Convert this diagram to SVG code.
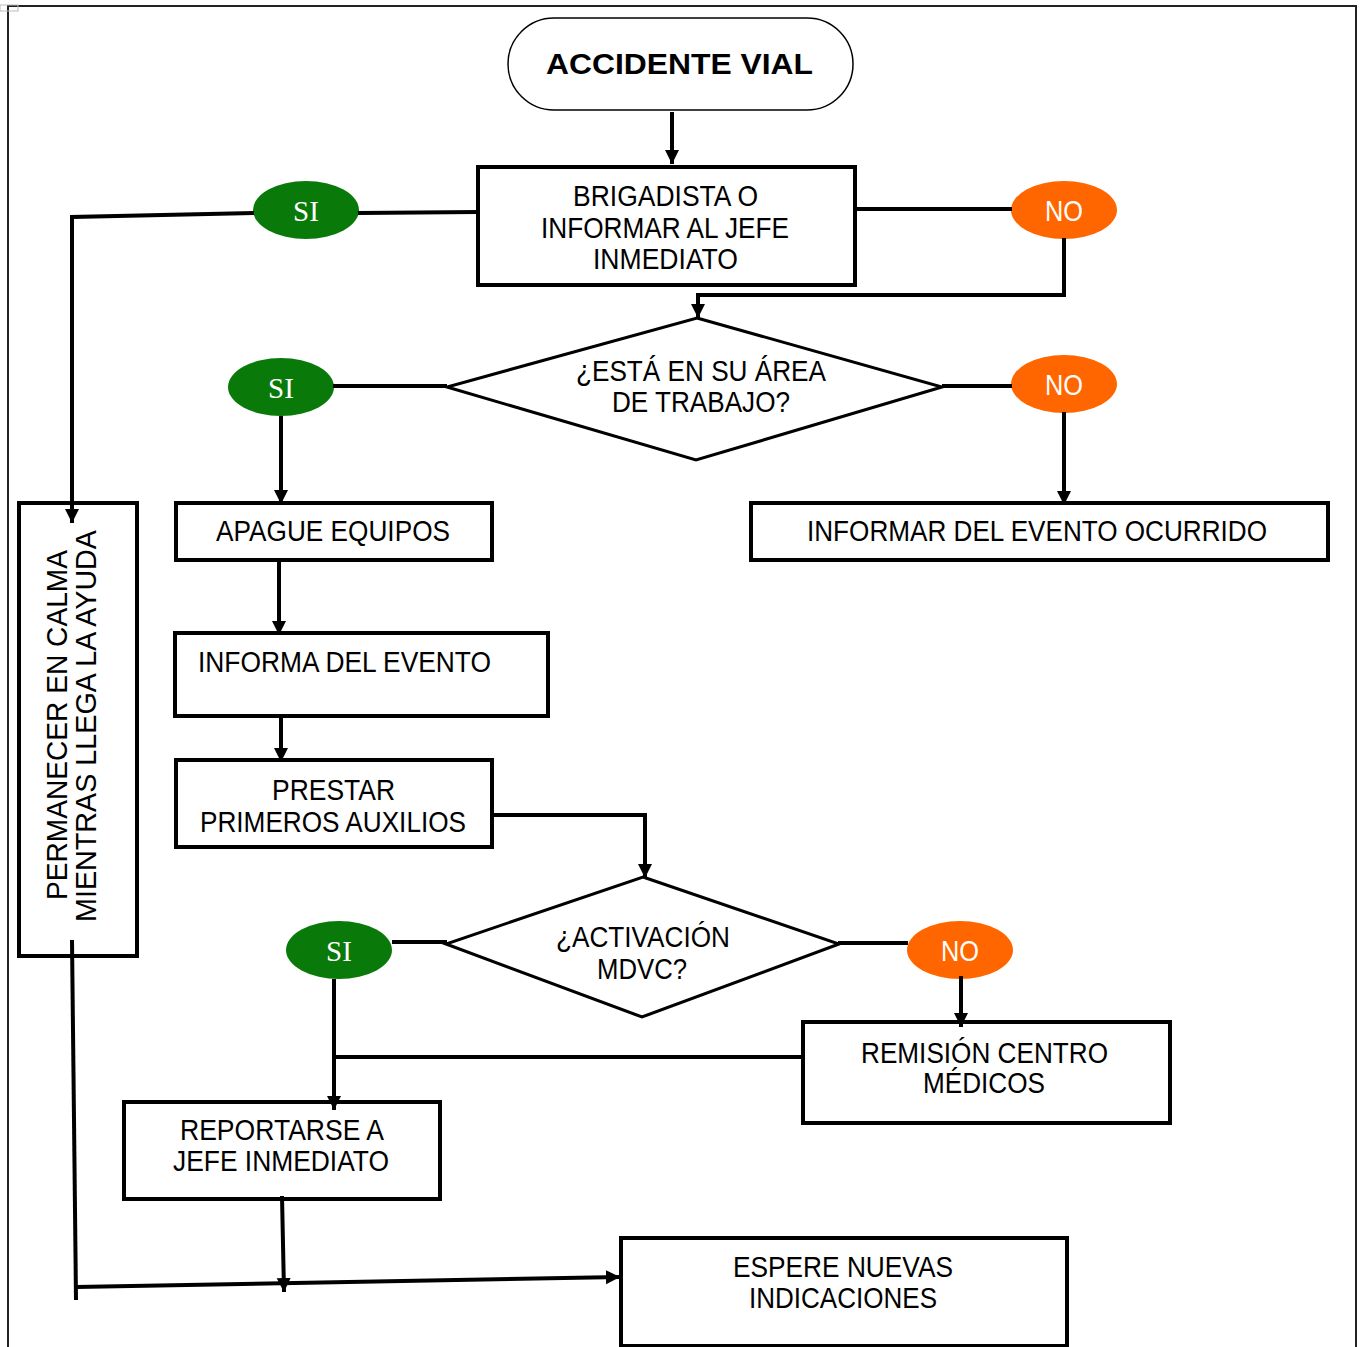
<svg xmlns="http://www.w3.org/2000/svg" width="1361" height="1347" viewBox="0 0 1361 1347">
<style>
.box{fill:#fff;stroke:#000;stroke-width:4}
.dia{fill:#fff;stroke:#000;stroke-width:3}
.t{font-family:"Liberation Sans",Arial,sans-serif;font-size:29px;fill:#000}
.tr{font-family:"Liberation Sans",Arial,sans-serif;font-size:29px;fill:#000}
.si{fill:#097a09}
.no{fill:#ff6600}
.sit{font-family:"Liberation Serif","DejaVu Serif",serif;font-size:29px;fill:#fff}
.not{font-family:"Liberation Sans",Arial,sans-serif;font-size:29px;fill:#fff}
.c{fill:none;stroke:#000;stroke-width:4}
</style>
<defs>
<marker id="arr" markerUnits="userSpaceOnUse" markerWidth="16" markerHeight="16" refX="14" refY="7" orient="auto">
<path d="M0,0 L14,7 L0,14 z" fill="#000"/>
</marker>
</defs>
<rect width="1361" height="1347" fill="#fff"/>
<g id="frame">
<path d="M8,1347 L8,6 L1356,6 L1356,1347" fill="none" stroke="#222" stroke-width="2"/>
<rect x="0" y="5" width="18" height="6" fill="none" stroke="#bbb" stroke-width="1"/>
</g>
<g id="n-start">
<rect x="508" y="18" width="345" height="92" rx="46" ry="46" fill="#fff" stroke="#000" stroke-width="1.5"/>
<text class="t" x="546" y="74" font-weight="bold" font-size="33" textLength="267" lengthAdjust="spacingAndGlyphs">ACCIDENTE VIAL</text>
</g>
<g id="n-brigadista">
<rect class="box" x="478" y="167" width="377" height="118"/>
<text class="t" x="573" y="206" textLength="185" lengthAdjust="spacingAndGlyphs">BRIGADISTA O</text>
<text class="t" x="541" y="238" textLength="248" lengthAdjust="spacingAndGlyphs">INFORMAR AL JEFE</text>
<text class="t" x="593" y="269" textLength="145" lengthAdjust="spacingAndGlyphs">INMEDIATO</text>
</g>
<g id="n-si1">
<ellipse class="si" cx="306" cy="210" rx="53" ry="29"/>
<text class="sit" x="306" y="221" text-anchor="middle">SI</text>
</g>
<g id="n-no1">
<ellipse class="no" cx="1064" cy="210" rx="53" ry="29"/>
<text class="not" x="1045" y="221" textLength="38" lengthAdjust="spacingAndGlyphs">NO</text>
</g>
<g id="n-area">
<polygon class="dia" points="697,318 942,387 696,460 447,387"/>
<text class="t" x="576" y="381" textLength="250" lengthAdjust="spacingAndGlyphs">¿ESTÁ EN SU ÁREA</text>
<text class="t" x="612" y="412" textLength="178" lengthAdjust="spacingAndGlyphs">DE TRABAJO?</text>
</g>
<g id="n-si2">
<ellipse class="si" cx="281" cy="387" rx="53" ry="29"/>
<text class="sit" x="281" y="398" text-anchor="middle">SI</text>
</g>
<g id="n-no2">
<ellipse class="no" cx="1064" cy="384" rx="53" ry="29"/>
<text class="not" x="1045" y="395" textLength="38" lengthAdjust="spacingAndGlyphs">NO</text>
</g>
<g id="n-permanecer">
<rect class="box" x="19" y="503" width="118" height="453"/>
<text class="tr" transform="translate(67,725) rotate(-90)" text-anchor="middle" textLength="350" lengthAdjust="spacingAndGlyphs">PERMANECER EN CALMA</text>
<text class="tr" transform="translate(96,726) rotate(-90)" text-anchor="middle" textLength="392" lengthAdjust="spacingAndGlyphs">MIENTRAS LLEGA LA AYUDA</text>
</g>
<g id="n-apague">
<rect class="box" x="176" y="503" width="316" height="57"/>
<text class="t" x="216" y="541" textLength="234" lengthAdjust="spacingAndGlyphs">APAGUE EQUIPOS</text>
</g>
<g id="n-informar-ocurrido">
<rect class="box" x="751" y="503" width="577" height="57"/>
<text class="t" x="807" y="541" textLength="460" lengthAdjust="spacingAndGlyphs">INFORMAR DEL EVENTO OCURRIDO</text>
</g>
<g id="n-informa">
<rect class="box" x="175" y="633" width="373" height="83"/>
<text class="t" x="198" y="672" textLength="293" lengthAdjust="spacingAndGlyphs">INFORMA DEL EVENTO</text>
</g>
<g id="n-prestar">
<rect class="box" x="176" y="760" width="316" height="87"/>
<text class="t" x="272" y="800" textLength="123" lengthAdjust="spacingAndGlyphs">PRESTAR</text>
<text class="t" x="200" y="832" textLength="266" lengthAdjust="spacingAndGlyphs">PRIMEROS AUXILIOS</text>
</g>
<g id="n-activacion">
<polygon class="dia" points="643,877 839,944 642,1017 446,944"/>
<text class="t" x="556" y="947" textLength="174" lengthAdjust="spacingAndGlyphs">¿ACTIVACIÓN</text>
<text class="t" x="597" y="979" textLength="90" lengthAdjust="spacingAndGlyphs">MDVC?</text>
</g>
<g id="n-si3">
<ellipse class="si" cx="339" cy="950" rx="53" ry="29"/>
<text class="sit" x="339" y="961" text-anchor="middle">SI</text>
</g>
<g id="n-no3">
<ellipse class="no" cx="960" cy="950" rx="53" ry="29"/>
<text class="not" x="941" y="961" textLength="38" lengthAdjust="spacingAndGlyphs">NO</text>
</g>
<g id="n-remision">
<rect class="box" x="803" y="1022" width="367" height="101"/>
<text class="t" x="861" y="1063" textLength="247" lengthAdjust="spacingAndGlyphs">REMISIÓN CENTRO</text>
<text class="t" x="923" y="1093" textLength="122" lengthAdjust="spacingAndGlyphs">MÉDICOS</text>
</g>
<g id="n-reportarse">
<rect class="box" x="124" y="1102" width="316" height="97"/>
<text class="t" x="180" y="1140" textLength="204" lengthAdjust="spacingAndGlyphs">REPORTARSE A</text>
<text class="t" x="173" y="1171" textLength="216" lengthAdjust="spacingAndGlyphs">JEFE INMEDIATO</text>
</g>
<g id="n-espere">
<rect class="box" x="621" y="1238" width="446" height="108"/>
<text class="t" x="733" y="1277" textLength="220" lengthAdjust="spacingAndGlyphs">ESPERE NUEVAS</text>
<text class="t" x="749" y="1308" textLength="188" lengthAdjust="spacingAndGlyphs">INDICACIONES</text>
</g>
<g id="connectors">
<path class="c" d="M672,112 L672,164" marker-end="url(#arr)"/>
<path class="c" d="M478,212 L358,213"/>
<path class="c" d="M254,213 L72,217 L72,523" marker-end="url(#arr)"/>
<path class="c" d="M855,209 L1012,209"/>
<path class="c" d="M1064,238 L1064,295 L698,295 L698,318" marker-end="url(#arr)"/>
<path class="c" d="M333,386 L447,386"/>
<path class="c" d="M281,416 L281,504" marker-end="url(#arr)"/>
<path class="c" d="M942,386 L1012,386"/>
<path class="c" d="M1064,412 L1064,505" marker-end="url(#arr)"/>
<path class="c" d="M279,560 L279,635" marker-end="url(#arr)"/>
<path class="c" d="M281,714 L281,762" marker-end="url(#arr)"/>
<path class="c" d="M492,815 L645,815 L645,878" marker-end="url(#arr)"/>
<path class="c" d="M392,942 L447,942"/>
<path class="c" d="M838,943 L908,943"/>
<path class="c" d="M334,979 L334,1110" marker-end="url(#arr)"/>
<path class="c" d="M961,976 L961,1027" marker-end="url(#arr)"/>
<path class="c" d="M803,1057 L334,1057"/>
<path class="c" d="M282,1196 L284,1292" marker-end="url(#arr)"/>
<path class="c" d="M72,940 L76,1300"/>
<path class="c" d="M76,1287 L620,1277" marker-end="url(#arr)"/>
</g>
</svg>
